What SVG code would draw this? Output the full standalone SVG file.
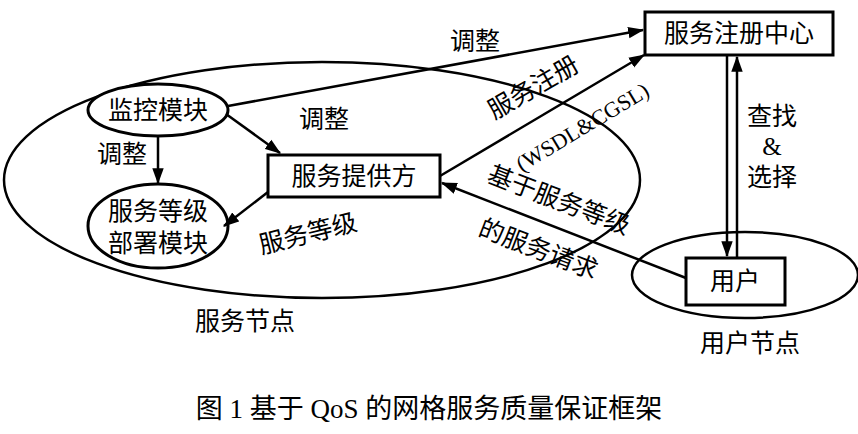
<svg xmlns="http://www.w3.org/2000/svg" width="858" height="434" viewBox="0 0 858 434">
<style>
.s{fill:none;stroke:#000;stroke-width:2.5}
.b{fill:#fff;stroke:#000;stroke-width:3}
.t{font-family:"Liberation Serif","Noto Sans CJK SC",serif;font-size:25px;fill:#000;text-anchor:middle}
.c{stroke:#000;stroke-width:2.5;fill:none}
</style>
<defs><marker id="a" viewBox="0 0 14 10" refX="13" refY="5" markerWidth="16" markerHeight="12" orient="auto" markerUnits="userSpaceOnUse"><path d="M0,0 L14,5 L0,10 z" fill="#000"/></marker></defs>
<rect width="858" height="434" fill="#fff"/>
<g id="service-node"><ellipse class="s" cx="322" cy="180" rx="318" ry="118"/><text class="t" x="245" y="330">服务节点</text></g>
<g id="user-node"><ellipse class="s" cx="745" cy="275" rx="113" ry="43"/><text class="t" x="750" y="352">用户节点</text></g>
<g id="monitor"><ellipse class="b" cx="158" cy="110" rx="70" ry="26"/><text class="t" x="158" y="119">监控模块</text></g>
<g id="deploy"><ellipse class="b" cx="158" cy="226" rx="70" ry="42"/><text class="t" x="158" y="220">服务等级</text><text class="t" x="158" y="252">部署模块</text></g>
<g id="provider"><rect class="b" x="268" y="155" width="172" height="42"/><text class="t" x="354" y="185">服务提供方</text></g>
<g id="registry"><rect class="b" x="645" y="12" width="188" height="43"/><text class="t" x="739" y="42">服务注册中心</text></g>
<g id="user"><rect class="b" x="686" y="258" width="99" height="47"/><text class="t" x="735" y="290">用户</text></g>
<g id="connectors">
<line class="c" marker-end="url(#a)" x1="228" y1="106" x2="643" y2="30"/>
<line class="c" marker-end="url(#a)" x1="226" y1="114" x2="280" y2="153"/>
<line class="c" marker-end="url(#a)" x1="158" y1="136" x2="158" y2="183"/>
<line class="c" marker-end="url(#a)" x1="268" y1="192" x2="224" y2="226"/>
<line class="c" marker-end="url(#a)" x1="440" y1="176" x2="644" y2="55"/>
<line class="c" marker-end="url(#a)" x1="686" y1="278" x2="442" y2="183"/>
<line class="c" marker-end="url(#a)" x1="727" y1="56" x2="727" y2="256"/>
<line class="c" marker-end="url(#a)" x1="737" y1="258" x2="737" y2="57"/>
</g>
<g id="labels">
<text class="t" x="475" y="50">调整</text>
<text class="t" x="324" y="128">调整</text>
<text class="t" x="122" y="163">调整</text>
<text class="t" x="310" y="242" transform="rotate(-14 310 242)">服务等级</text>
<text class="t" x="537" y="95" transform="rotate(-30 537 94)">服务注册</text>
<text class="t" x="577" y="136" style="font-size:22px" transform="rotate(-31 577 118)">(WSDL&amp;CGSL)</text>
<text class="t" x="555" y="208" transform="rotate(21 555 210)">基于服务等级</text>
<text class="t" x="540" y="258" transform="rotate(21 540 245)">的服务请求</text>
<text class="t" x="772" y="125">查找</text>
<text class="t" x="772" y="155">&amp;</text>
<text class="t" x="772" y="186">选择</text>
<text class="t" x="429" y="418" style="font-size:27px">图 1  基于 QoS 的网格服务质量保证框架</text>
</g>
</svg>
